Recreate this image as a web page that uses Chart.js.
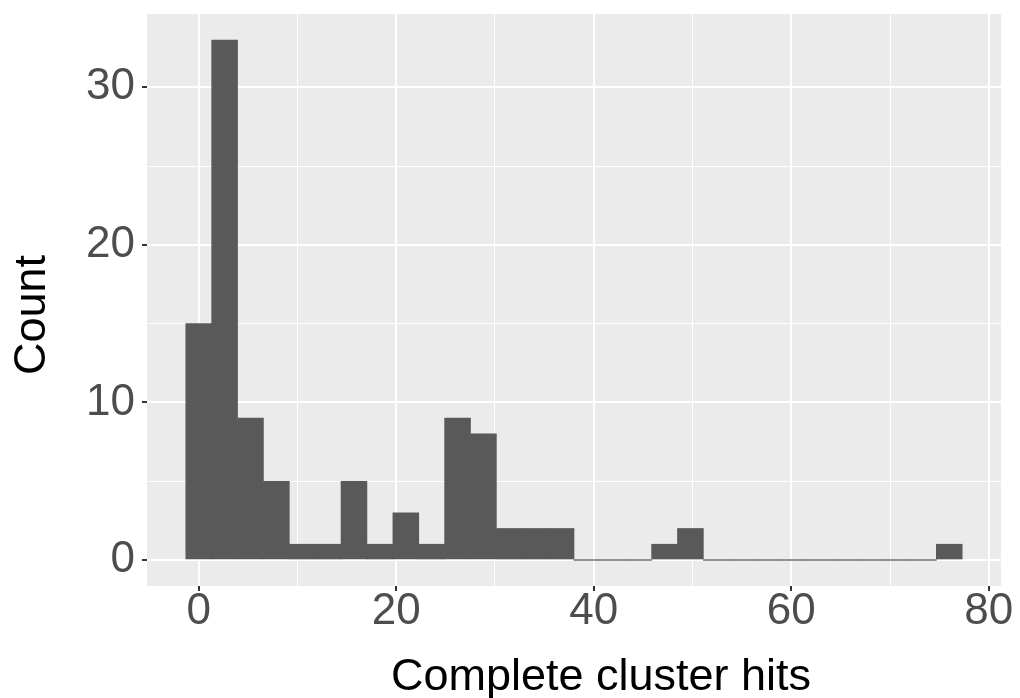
<!DOCTYPE html>
<html>
<head>
<meta charset="utf-8">
<script src="https://cdn.jsdelivr.net/npm/chart.js@4.4.1/dist/chart.umd.min.js"></script>
<style>
  html, body { margin: 0; padding: 0; background: #ffffff; }
  #wrap { width: 1020px; height: 698px; position: relative; }
</style>
</head>
<body>
<div id="wrap"><canvas id="c" width="1020" height="698"></canvas></div>
<script>
// Bin centres (Complete cluster hits) and counts
const binCenters = [0, 2.62, 5.24, 7.86, 10.48, 13.10, 15.72, 18.34, 20.97, 23.59,
                    26.21, 28.83, 31.45, 34.07, 36.69, 39.31, 41.93, 44.55, 47.17, 49.79,
                    52.41, 55.03, 57.66, 60.28, 62.90, 65.52, 68.14, 70.76, 73.38, 76.00];
const counts = [15, 33, 9, 5, 1, 1, 5, 1, 3, 1,
                9, 8, 2, 2, 2, 0, 0, 0, 1, 2,
                0, 0, 0, 0, 0, 0, 0, 0, 0, 1];
const xTickValues = [0, 10, 20, 30, 40, 50, 60, 70, 80];
const xTickLabels = [0, 20, 40, 60, 80];
const yTickValues = [0, 5, 10, 15, 20, 25, 30];
const yTickLabels = [0, 10, 20, 30];
const xTitle = 'Complete cluster hits';
const yTitle = 'Count';

const FONT = '"Liberation Sans", Arial, sans-serif';

const panelBg = {
  id: 'panelBg',
  beforeDraw(chart) {
    const {ctx, chartArea: a} = chart;
    ctx.save();
    ctx.fillStyle = '#EBEBEB';
    ctx.fillRect(a.left, a.top, a.right - a.left, a.bottom - a.top);
    ctx.restore();
  }
};

const axisTitles = {
  id: 'axisTitles',
  afterDraw(chart) {
    const {ctx} = chart;
    ctx.save();
    ctx.fillStyle = '#000000';
    ctx.font = '45px ' + FONT;
    ctx.textAlign = 'center';
    ctx.textBaseline = 'alphabetic';
    ctx.fillText(xTitle, 601, 690);
    ctx.translate(45, 315);
    ctx.rotate(-Math.PI / 2);
    ctx.fillText(yTitle, 0, 0);
    ctx.restore();
  }
};

const data = binCenters.map((c, i) => ({x: c, y: counts[i]}));

new Chart(document.getElementById('c'), {
  type: 'bar',
  data: {
    datasets: [{
      data: data,
      backgroundColor: (ctx) => (ctx.raw && ctx.raw.y === 0) ? '#7a7a7a' : '#595959',
      borderWidth: 0,
      barPercentage: 1.0,
      categoryPercentage: 1.0,
      minBarLength: 1
    }]
  },
  options: {
    responsive: false,
    animation: false,
    devicePixelRatio: 1,
    layout: { padding: { top: 14, right: 19, left: 0, bottom: 0 } },
    plugins: { legend: { display: false }, tooltip: { enabled: false } },
    scales: {
      x: {
        type: 'linear',
        min: -5.24,
        max: 81.24,
        offset: false,
        afterBuildTicks: (s) => { s.ticks = xTickValues.map(v => ({value: v})); },
        afterFit: (s) => { s.height = 112; s.paddingLeft = 0; s.paddingRight = 0; },
        border: { display: false },
        grid: {
          offset: false,
          color: '#FFFFFF',
          lineWidth: (ctx) => xTickLabels.includes(ctx.tick.value) ? 2 : 1,
          drawTicks: true,
          tickLength: 5,
          tickWidth: 2,
          tickColor: (ctx) => xTickLabels.includes(ctx.tick.value) ? '#333333' : 'rgba(0,0,0,0)'
        },
        ticks: {
          autoSkip: false,
          maxRotation: 0,
          padding: -6,
          color: '#4D4D4D',
          font: { family: FONT, size: 44 },
          callback: (v) => xTickLabels.includes(v) ? String(v) : ''
        }
      },
      y: {
        type: 'linear',
        min: -1.65,
        max: 34.65,
        afterBuildTicks: (s) => { s.ticks = yTickValues.map(v => ({value: v})); },
        afterFit: (s) => { s.width = 147; s.paddingTop = 0; s.paddingBottom = 0; },
        border: { display: false },
        grid: {
          color: '#FFFFFF',
          lineWidth: (ctx) => yTickLabels.includes(ctx.tick.value) ? 2 : 1,
          drawTicks: true,
          tickLength: 5,
          tickWidth: 2,
          tickColor: (ctx) => yTickLabels.includes(ctx.tick.value) ? '#333333' : 'rgba(0,0,0,0)'
        },
        ticks: {
          autoSkip: false,
          padding: 7,
          color: '#4D4D4D',
          font: { family: FONT, size: 44 },
          callback: (v) => yTickLabels.includes(v) ? String(v) : ''
        }
      }
    }
  },
  plugins: [panelBg, axisTitles]
});
</script>
</body>
</html>
